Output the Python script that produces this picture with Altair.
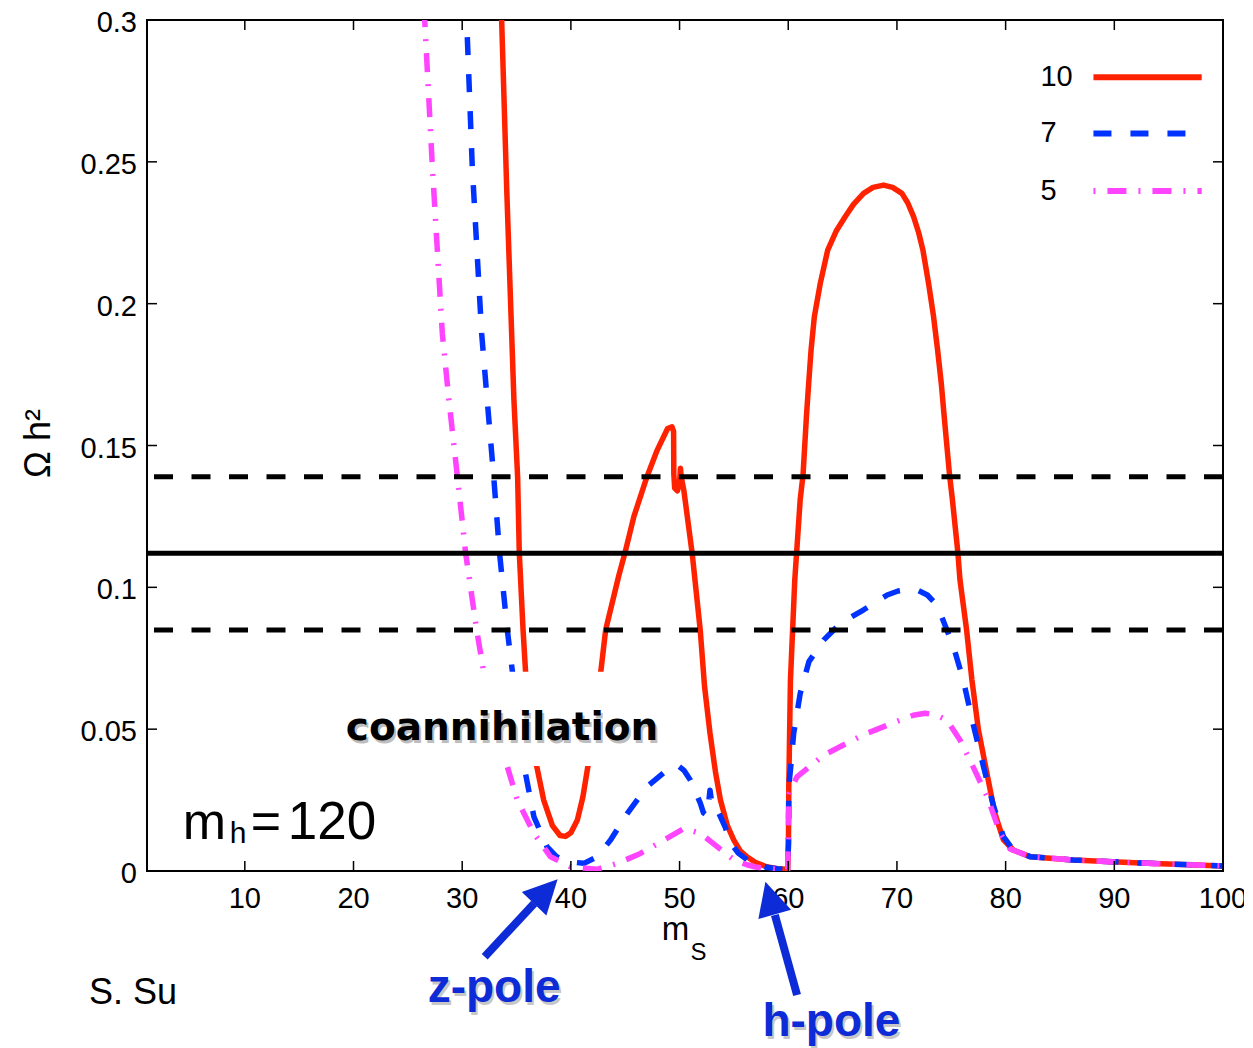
import altair as alt
import pandas as pd

# ---------------- data ----------------
series_names = ["10", "7", "5"]
series_colors = ["#FF2200", "#0033FF", "#FF44FF"]

x_red = [33.47, 33.63, 34.10, 34.60, 34.76, 35.10, 35.25, 35.60, 35.85, 36.20, 36.80, 37.50,
         38.30, 39.00, 39.50, 40.00, 40.60, 41.10, 41.60, 42.20, 42.70, 43.20, 44.40, 45.00,
         45.80, 47.00, 47.90, 48.90, 49.30, 49.45, 49.47, 49.55, 49.80, 50.00, 50.08, 50.15,
         50.40, 51.16, 51.90, 52.30, 52.80, 53.30, 53.76, 54.40, 54.98, 55.60, 56.20, 57.00,
         58.00, 59.00, 59.95, 60.02, 60.05, 60.20, 60.60, 61.10, 61.36, 61.67, 61.88, 62.10,
         62.40, 62.95, 63.63, 64.40, 65.25, 66.00, 66.93, 67.80, 68.77, 69.60, 70.46, 71.00,
         71.53, 72.00, 72.39, 72.91, 73.37, 73.74, 74.08, 74.35, 74.84, 75.10, 75.60, 75.80,
         76.40, 76.90, 77.50, 78.40, 79.00, 79.80, 80.70, 82.30, 86.20, 92.40, 100.0]
y_red = [0.320, 0.300, 0.240, 0.184, 0.166, 0.139, 0.1125, 0.085, 0.069, 0.055, 0.038, 0.025,
         0.016, 0.0125, 0.0122, 0.0135, 0.018, 0.026, 0.0377, 0.055, 0.0685, 0.085, 0.104, 0.1125,
         0.125, 0.139, 0.148, 0.156, 0.1566, 0.155, 0.140, 0.135, 0.134, 0.137, 0.142, 0.139,
         0.134, 0.112, 0.085, 0.065, 0.0486, 0.035, 0.025, 0.016, 0.011, 0.007, 0.005, 0.003,
         0.0015, 0.0008, 0.0006, 0.010, 0.030, 0.067, 0.1026, 0.131, 0.1396, 0.1601, 0.1719, 0.1837,
         0.1954, 0.2072, 0.2189, 0.2255, 0.2307, 0.2350, 0.2389, 0.2410, 0.2418, 0.2410, 0.2389, 0.2355,
         0.2307, 0.2250, 0.2189, 0.2072, 0.1954, 0.1837, 0.1719, 0.1601, 0.1396, 0.131, 0.1125, 0.1026,
         0.0853, 0.0673, 0.0497, 0.0321, 0.0204, 0.011, 0.0074, 0.005, 0.0039, 0.0028, 0.0018]

x_blue = [30.21, 30.41, 30.93, 31.79, 32.30, 32.90, 33.44, 34.15, 34.60, 35.10, 35.70, 36.60,
          37.80, 38.70, 39.67, 41.20, 42.40, 43.65, 45.20, 47.00, 48.86, 49.78, 50.40, 51.00,
          51.90, 52.20, 52.55, 52.80, 53.05, 53.60, 54.20, 54.70, 55.40, 56.20, 57.00, 58.00,
          59.00, 59.95, 60.02, 60.05, 60.20, 60.50, 61.10, 61.90, 63.25, 64.80, 66.90, 69.10,
          70.10, 71.10, 72.00, 72.80, 73.50, 74.00, 75.20, 76.10, 77.00, 77.97, 78.90, 79.80,
          80.70, 82.30, 86.20, 92.40, 100.0]
y_blue = [0.320, 0.300, 0.248, 0.1895, 0.166, 0.139, 0.112, 0.085, 0.0709, 0.055, 0.0368, 0.0191,
          0.0086, 0.0050, 0.0033, 0.0027, 0.0050, 0.0109, 0.0203, 0.0297, 0.0356, 0.0374, 0.0355, 0.032,
          0.024, 0.0205, 0.0195, 0.0285, 0.0215, 0.0205, 0.0155, 0.0099, 0.0063, 0.004, 0.0025, 0.0013,
          0.0008, 0.0006, 0.010, 0.030, 0.0356, 0.0485, 0.0626, 0.0738, 0.0814, 0.0873, 0.092, 0.0973,
          0.0987, 0.0993, 0.0988, 0.0973, 0.0945, 0.0908, 0.0791, 0.0673, 0.052, 0.0367, 0.0227, 0.0121,
          0.0074, 0.005, 0.0039, 0.0028, 0.0018]

x_pink = [26.28, 26.55, 27.26, 28.17, 28.78, 29.56, 30.32, 31.33, 32.00, 33.00, 34.15, 35.07,
          36.60, 38.13, 39.97, 42.40, 44.30, 46.40, 48.55, 50.40, 51.90, 53.46, 55.00, 56.20,
          57.00, 58.00, 59.00, 59.95, 60.03, 60.10, 60.80, 63.30, 66.90, 70.30, 71.50, 72.60,
          73.60, 74.60, 75.80, 77.00, 78.30, 79.50, 80.40, 82.30, 86.20, 92.40, 100.0]
y_pink = [0.320, 0.300, 0.248, 0.1895, 0.166, 0.139, 0.112, 0.085, 0.0697, 0.052, 0.0368, 0.025,
          0.0133, 0.005, 0.0015, 0.0006, 0.0027, 0.0062, 0.0109, 0.015, 0.0133, 0.0086, 0.0039, 0.0022,
          0.0014, 0.0009, 0.0006, 0.0005, 0.020, 0.0275, 0.0332, 0.0409, 0.048, 0.0532, 0.0549, 0.0556,
          0.0550, 0.0532, 0.0462, 0.0368, 0.0262, 0.0133, 0.0078, 0.005, 0.0039, 0.0028, 0.0018]

band_central = [0.112]
band_edges = [0.139, 0.085]

x_ticks = [10, 20, 30, 40, 50, 60, 70, 80, 90, 100]
y_ticks = [0, 0.05, 0.1, 0.15, 0.2, 0.25, 0.3]
x_tick_labels = [f"{v:g}" for v in x_ticks]
y_tick_labels = [f"{v:g}" for v in y_ticks]

# ---------------- layout / styles ----------------
W, H = 1076, 851
X_DOM, Y_DOM = [1, 100], [0, 0.3]
XS = alt.Scale(domain=X_DOM, nice=False, zero=False)
YS = alt.Scale(domain=Y_DOM, nice=False, zero=False)
TLX = 10 / W * (X_DOM[1] - X_DOM[0])
TLY = 10 / H * (Y_DOM[1] - Y_DOM[0])
FONT = "Liberation Sans"
ARROW_BLUE = "#0D2BD6"

ONE = pd.DataFrame({"a": [0]})


def xd(v):
    return alt.XDatum(v, type="quantitative", scale=XS, axis=None)


def yd(v):
    return alt.YDatum(v, type="quantitative", scale=YS, axis=None)


def xf(field):
    return alt.X(field, type="quantitative", scale=XS, axis=None)


def yf(field):
    return alt.Y(field, type="quantitative", scale=YS, axis=None)


def curve(xs, ys, color, dash=None):
    assert len(xs) == len(ys)
    df = pd.DataFrame({"x": xs, "y": ys, "i": list(range(len(xs)))})
    kw = dict(color=color, strokeWidth=5.5, clip=True, strokeCap="butt", strokeJoin="round")
    if dash:
        kw["strokeDash"] = dash
    return alt.Chart(df).mark_line(**kw).encode(x=xf("x"), y=yf("y"), order="i:Q")


def text(t, x, y, size, font=FONT, weight="normal", color="black", align="left",
         baseline="alphabetic", angle=None, dx=0, dy=0, opacity=1.0):
    kw = dict(text=t, font=font, fontSize=size, fontWeight=weight, color=color, align=align,
              baseline=baseline, dx=dx, dy=dy, opacity=opacity)
    if angle is not None:
        kw["angle"] = angle
    return alt.Chart(ONE).mark_text(**kw).encode(x=xd(x), y=yd(y))


def shadowed(t, x, y, size, font, weight, color, shadow="#9a9a9a"):
    return [text(t, x, y, size, font, weight, shadow, dx=2, dy=3, opacity=0.55),
            text(t, x, y, size, font, weight, color)]


def hrule(yv, dash=None):
    kw = dict(color="black", strokeWidth=5)
    if dash:
        kw["strokeDash"] = dash
    return alt.Chart(pd.DataFrame({"y": yv})).mark_rule(**kw).encode(y=yf("y"))


def arrow(x0, y0, x1, y1, xt, yt, ang):
    shaft = alt.Chart(ONE).mark_rule(color=ARROW_BLUE, strokeWidth=8, strokeCap="butt").encode(
        x=xd(x0), y=yd(y0), x2=alt.datum(x1), y2=alt.datum(y1))
    head = alt.Chart(ONE).mark_point(shape="M0,0L-0.5,1L0.5,1Z", size=4624, filled=True,
                                     color=ARROW_BLUE, opacity=1, strokeWidth=0, angle=ang).encode(
        x=xd(xt), y=yd(yt))
    return [shaft, head]


layers = []

# curves (red under blue under pink)
layers.append(curve(x_red, y_red, series_colors[0]))
layers.append(curve(x_blue, y_blue, series_colors[1], [18, 19]))
layers.append(curve(x_pink, y_pink, series_colors[2], [19, 12, 2, 12]))

# relic density band
layers.append(hrule(band_central))
layers.append(hrule(band_edges, [19, 18.5]))

# mirrored inward ticks
bt = pd.DataFrame({"x": x_ticks, "lab": x_tick_labels})
lt = pd.DataFrame({"y": y_ticks, "lab": y_tick_labels})
lti = pd.DataFrame({"y": y_ticks[1:-1]})
layers.append(alt.Chart(bt).mark_rule(color="black", strokeWidth=1.5).encode(
    x=xf("x"), y=yd(Y_DOM[0]), y2=alt.datum(Y_DOM[0] + TLY)))
layers.append(alt.Chart(bt).mark_rule(color="black", strokeWidth=1.5).encode(
    x=xf("x"), y=yd(Y_DOM[1]), y2=alt.datum(Y_DOM[1] - TLY)))
layers.append(alt.Chart(lti).mark_rule(color="black", strokeWidth=1.5).encode(
    y=yf("y"), x=xd(X_DOM[0]), x2=alt.datum(X_DOM[0] + TLX)))
layers.append(alt.Chart(lti).mark_rule(color="black", strokeWidth=1.5).encode(
    y=yf("y"), x=xd(X_DOM[1]), x2=alt.datum(X_DOM[1] - TLX)))

# tick labels
layers.append(alt.Chart(bt).mark_text(font=FONT, fontSize=29, color="black", align="center",
                                      baseline="top", dy=14).encode(
    x=xf("x"), y=yd(Y_DOM[0]), text="lab:N"))
layers.append(alt.Chart(lt).mark_text(font=FONT, fontSize=29, color="black", align="right",
                                      baseline="middle", dx=-10, dy=3).encode(
    y=yf("y"), x=xd(X_DOM[0]), text="lab:N"))

# white box behind the "coannihilation" label
layers.append(alt.Chart(ONE).mark_rect(color="white", opacity=1).encode(
    x=xd(19.29), x2=alt.datum(48.7), y=yd(0.037), y2=alt.datum(0.0702)))
layers += shadowed("coannihilation", 19.29, 0.0462, 39, "DejaVu Sans", "bold", "black", "#888888")

# legend (drawn inside the plot, top right)
leg_y = [0.2798, 0.2600, 0.2397]
leg_dash = [None, [18, 19], [2, 12, 19, 12]]
for name, col, yy, dsh in zip(series_names, series_colors, leg_y, leg_dash):
    layers.append(text(name, 83.2, yy, 29, baseline="middle"))
    kw = dict(color=col, strokeWidth=6, strokeCap="butt")
    if dsh:
        kw["strokeDash"] = dsh
    layers.append(alt.Chart(ONE).mark_rule(**kw).encode(x=xd(88.08), x2=alt.datum(98.04), y=yd(yy)))

# m_h = 120
layers.append(text("m", 4.30, 0.01128, 52))
layers.append(text("h", 8.62, 0.00987, 30))
layers.append(text("=", 10.55, 0.01128, 52))
layers.append(text("120", 13.95, 0.01128, 53))

# axis titles
layers.append(text("Ω h²", -8.94, 0.1507, 36, align="center", baseline="middle", angle=270))
layers.append(text("m", 48.35, -0.02432, 33))
layers.append(text("S", 51.0, -0.03137, 24))

# author
layers.append(text("S. Su", -4.34, -0.04689, 36))

# pole annotations
layers += arrow(32.07, -0.0302, 36.62, -0.01146, 38.78, -0.00293, 43.8)
layers += arrow(60.81, -0.0437, 58.77, -0.0155, 57.90, -0.00377, 344.1)
layers += shadowed("z-pole", 26.82, -0.04618, 46, FONT, "bold", ARROW_BLUE)
layers += shadowed("h-pole", 57.62, -0.05817, 46, FONT, "bold", ARROW_BLUE)

chart = alt.layer(*layers).properties(
    width=W, height=H,
    autosize=alt.AutoSizeParams(type="none"),
    padding={"left": 139, "top": 12, "right": 21, "bottom": 177},
    background="white",
).configure_view(stroke="black", strokeWidth=2)

chart.save("out.html", embed_options={"renderer": "svg", "actions": False})
